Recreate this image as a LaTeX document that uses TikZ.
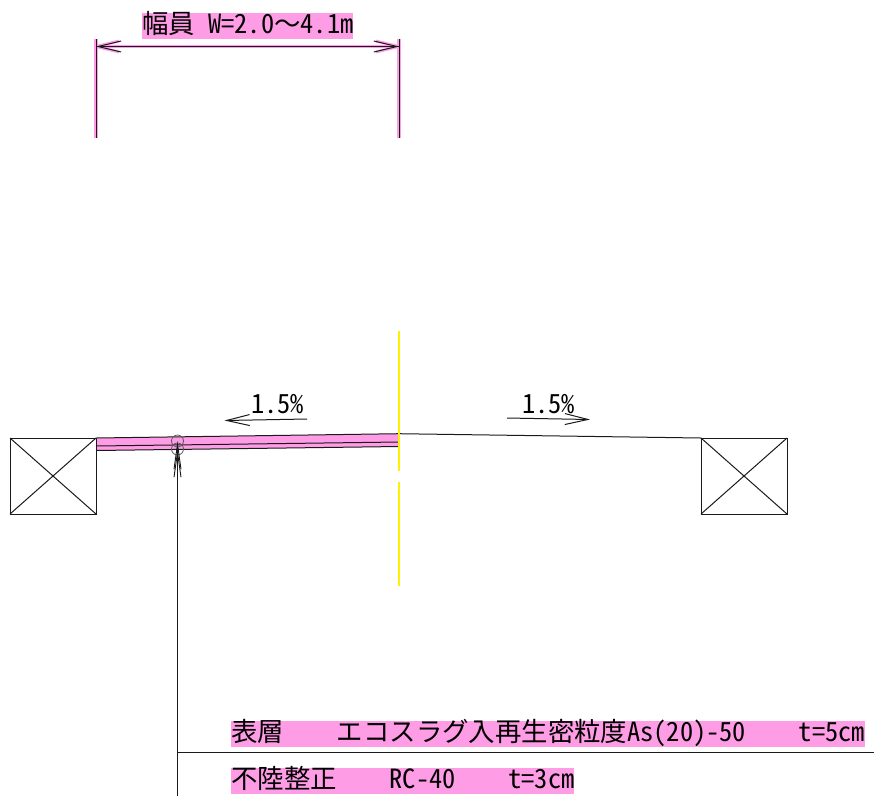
\documentclass[tikz,border=0pt]{standalone}
\usepackage{fontspec}
\usetikzlibrary{arrows.meta}
\setmainfont{Noto Sans CJK JP}[RawFeature=+hwid]
\newfontfamily\fullwd{Noto Sans CJK JP}
\definecolor{hlpink}{HTML}{FF9CE6}
\definecolor{linegray}{HTML}{1A1A1A}
\newcommand{\hsp}[1]{\hspace*{\dimexpr#1\dimexpr13.2pt\relax\relax}}
\tikzset{
  x=1pt,y=-1pt,
  hl/.style={fill=hlpink,inner sep=0pt,anchor=north west,text height=20.5pt,text depth=5.5pt,font=\fontsize{26.4pt}{27pt}\selectfont,text=black},
  slopetext/.style={inner sep=0pt,anchor=west,font=\fontsize{26.4pt}{27pt}\selectfont},
  ln/.style={draw=linegray,line width=1pt},
  halo/.style={draw=hlpink,line width=3.6pt},
  openhead/.style={-{Straight Barb[length=23pt,width=11pt,line width=1pt]}},
  leaderhead/.style={-{Straight Barb[length=25pt,width=7pt,line width=0.9pt]}},
  cl/.style={draw=yellow,line width=1.3pt}
}
\begin{document}
\begin{tikzpicture}
\useasboundingbox (0,0) rectangle (874,796);
% coordinates
\coordinate (dimLT) at (96,39); \coordinate (dimLB) at (96,138);
\coordinate (dimRT) at (399,39); \coordinate (dimRB) at (399,138);
\coordinate (dimL) at (96,46.5); \coordinate (dimR) at (399,46.5);
\coordinate (rTopL) at (96,438); \coordinate (rTopC) at (399,433.7); \coordinate (rTopR) at (701,438);
\coordinate (rMidL) at (96,446); \coordinate (rMidC) at (399,442);
\coordinate (rBotL) at (96,450.5); \coordinate (rBotC) at (399,446.5);
\coordinate (clA) at (399,331); \coordinate (clB) at (399,471);
\coordinate (clC) at (399,482); \coordinate (clD) at (399,586);
\coordinate (leadTop) at (177.5,441); \coordinate (leadTopB) at (177.5,449);
\coordinate (leadStart) at (177.5,466); \coordinate (leadBot) at (177.5,796);
\coordinate (leadElbow) at (177.5,752); \coordinate (leadEnd) at (874,752);
\coordinate (sLtail) at (307,419); \coordinate (sLtip) at (224.5,420.5);
\coordinate (sRtail) at (507,418); \coordinate (sRtip) at (590,419.5);
% dimension halo
\draw[halo] (dimLT) -- (dimLB);
\draw[halo] (dimRT) -- (dimRB);
\draw[draw=hlpink,line width=3.4pt] (dimL) -- (dimR);
\draw[draw=hlpink,line width=2.8pt] (96,46.5) -- (119,41) (96,46.5) -- (119,52) (399,46.5) -- (376,41) (399,46.5) -- (376,52);
% dimension
\draw[ln] (dimLT) -- (dimLB);
\draw[ln] (dimRT) -- (dimRB);
\draw[ln,openhead] (dimR) -- (dimL);
\draw[ln,openhead] (dimL) -- (dimR);
\node[hl] (wlabel) at (142,12.5) {幅員\hsp{1}W=2.0{\fullwd ～}4.1m};
% road
\fill[hlpink] (rTopL) -- (rTopC) -- (rBotC) -- (rBotL) -- cycle;
\draw[ln] (rTopL) -- (rTopC) -- (rTopR);
\draw[ln] (rMidL) -- (rMidC);
\draw[ln] (rBotL) -- (rBotC);
% centre line
\draw[cl] (clA) -- (clB);
\draw[cl] (clC) -- (clD);
% curbs
\node[ln,minimum width=86pt,minimum height=76pt,inner sep=0pt,outer sep=0pt] (curbL) at (53,476) {};
\node[ln,minimum width=86pt,minimum height=76pt,inner sep=0pt,outer sep=0pt] (curbR) at (744,476) {};
\draw[ln] (curbL.north west) -- (curbL.south east);
\draw[ln] (curbL.north east) -- (curbL.south west);
\draw[ln] (curbR.north west) -- (curbR.south east);
\draw[ln] (curbR.north east) -- (curbR.south west);
% slope
\draw[ln,openhead] (sLtail) -- (sLtip);
\draw[ln,openhead] (sRtail) -- (sRtip);
\node[slopetext] (slopeL) at (251,404) {1.5\%};
\node[slopetext] (slopeR) at (522,404) {1.5\%};
% leader
\draw[draw=gray!70!black,line width=0.8pt] (leadTop) circle (6pt);
\draw[draw=gray!70!black,line width=0.8pt] (leadTopB) circle (6pt);
\draw[ln,leaderhead] (leadStart) -- (leadTop);
\draw[ln,leaderhead] (leadStart) -- (leadTopB);
\draw[ln] (leadStart) -- (leadBot);
\draw[ln] (leadElbow) -- (leadEnd);
% labels
\node[hl] (row1) at (231,720.5) {表層\hsp{4}エコスラグ入再生密粒度As(20)-50\hsp{4}t=5cm};
\node[hl] (row2) at (231,767.5) {不陸整正\hsp{4}RC-40\hsp{4}t=3cm};
\end{tikzpicture}
\end{document}
